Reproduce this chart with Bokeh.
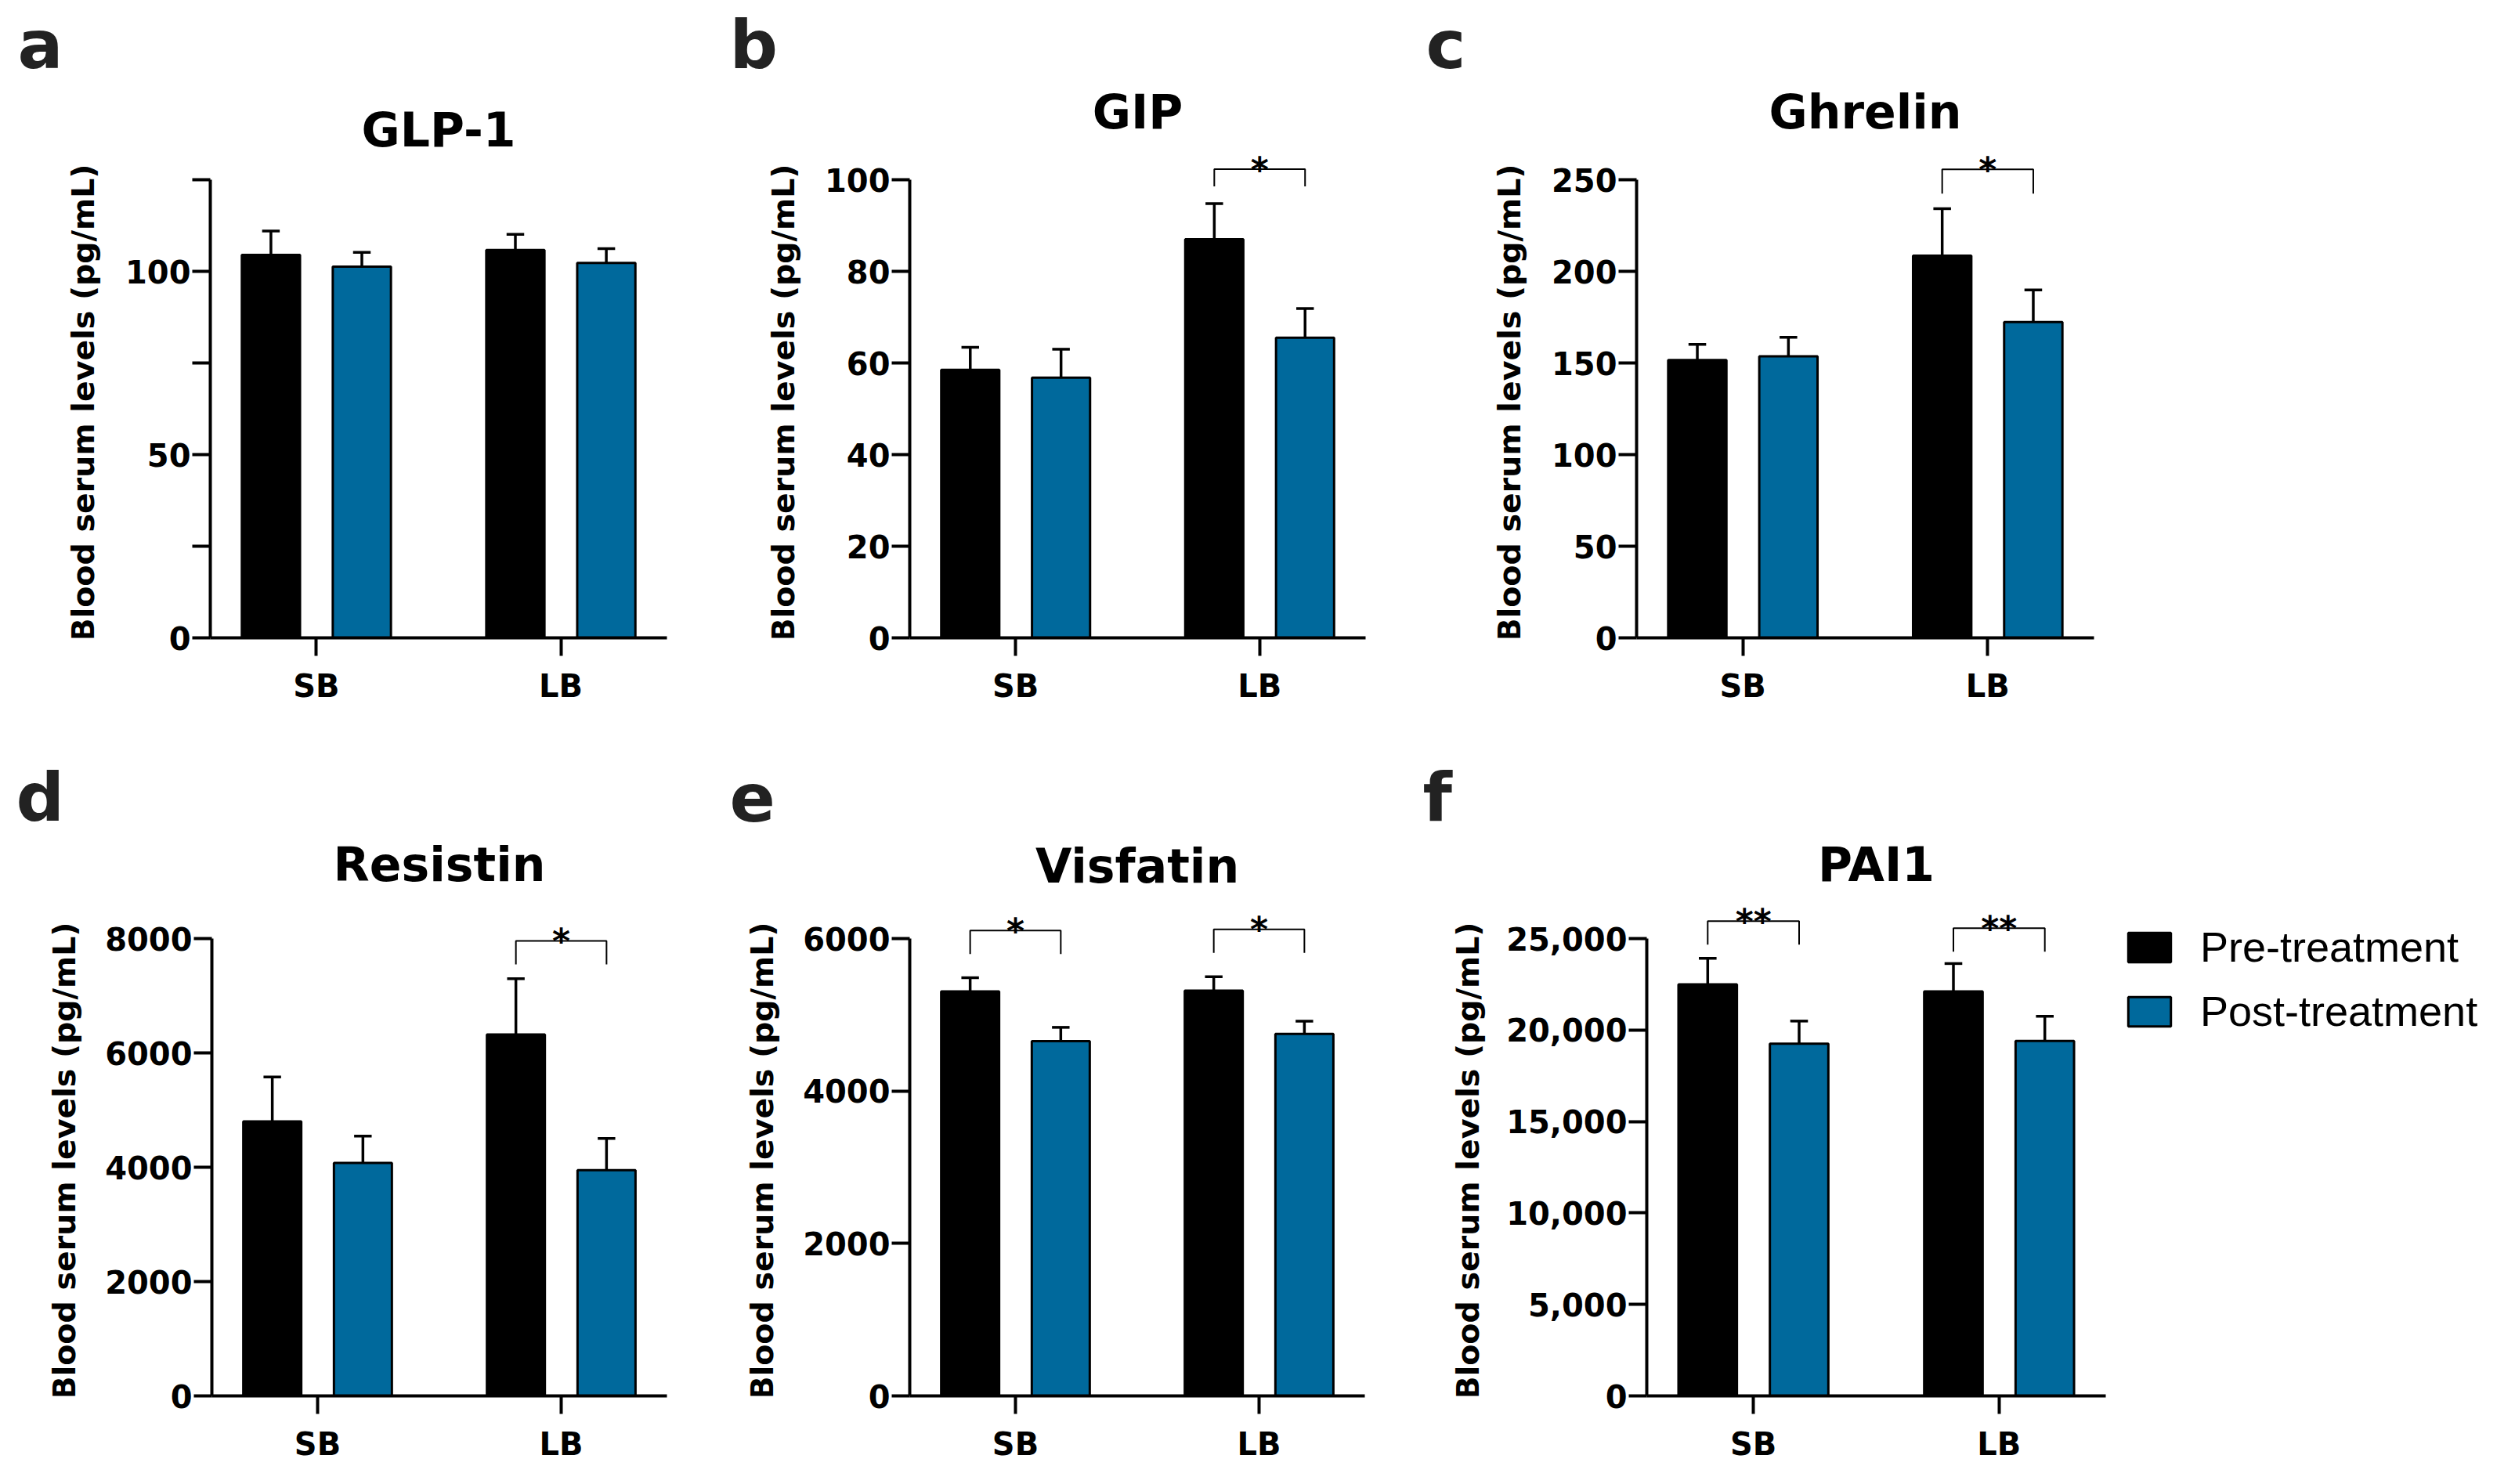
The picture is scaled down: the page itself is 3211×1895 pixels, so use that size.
import math
from bokeh.plotting import figure
from bokeh.models import Range1d, FixedTicker, Legend, LegendItem
from bokeh.layouts import row, column
from bokeh.embed import file_html
from bokeh.resources import INLINE
from bokeh.core.properties import value

# ---------------- data ----------------
categories = ["SB", "LB"]
series_names = ["Pre-treatment", "Post-treatment"]
panel_letters = ["a", "b", "c", "d", "e", "f"]
panel_titles = ["GLP-1", "GIP", "Ghrelin", "Resistin", "Visfatin", "PAI1"]
y_label = "Blood serum levels (pg/mL)"

glp1_pre = [104.5, 105.8]
glp1_pre_sem = [6.5, 4.3]
glp1_post = [101.3, 102.3]
glp1_post_sem = [3.9, 3.9]
glp1_ticks = [0, 25, 50, 75, 100, 125]
glp1_tick_labels = ["0", "", "50", "", "100", ""]
glp1_sig_cat = []
glp1_sig_text = []
glp1_sig_y = []

gip_pre = [58.5, 87.0]
gip_pre_sem = [4.9, 7.8]
gip_post = [56.8, 65.5]
gip_post_sem = [6.2, 6.4]
gip_ticks = [0, 20, 40, 60, 80, 100]
gip_tick_labels = ["0", "20", "40", "60", "80", "100"]
gip_sig_cat = ["LB"]
gip_sig_text = ["*"]
gip_sig_y = [102.3]

ghrelin_pre = [151.6, 208.5]
ghrelin_pre_sem = [8.5, 25.7]
ghrelin_post = [153.6, 172.3]
ghrelin_post_sem = [10.4, 17.6]
ghrelin_ticks = [0, 50, 100, 150, 200, 250]
ghrelin_tick_labels = ["0", "50", "100", "150", "200", "250"]
ghrelin_sig_cat = ["LB"]
ghrelin_sig_text = ["*"]
ghrelin_sig_y = [255.7]

resistin_pre = [4802, 6322]
resistin_pre_sem = [777, 976]
resistin_post = [4074, 3950]
resistin_post_sem = [471, 554]
resistin_ticks = [0, 2000, 4000, 6000, 8000]
resistin_tick_labels = ["0", "2000", "4000", "6000", "8000"]
resistin_sig_cat = ["LB"]
resistin_sig_text = ["*"]
resistin_sig_y = [7959]

visfatin_pre = [5306, 5318]
visfatin_pre_sem = [180, 180]
visfatin_post = [4655, 4748]
visfatin_post_sem = [180, 167]
visfatin_ticks = [0, 2000, 4000, 6000]
visfatin_tick_labels = ["0", "2000", "4000", "6000"]
visfatin_sig_cat = ["SB", "LB"]
visfatin_sig_text = ["*", "*"]
visfatin_sig_y = [6105, 6120]

pai1_pre = [22500, 22113]
pai1_pre_sem = [1418, 1521]
pai1_post = [19253, 19407]
pai1_post_sem = [1237, 1340]
pai1_ticks = [0, 5000, 10000, 15000, 20000, 25000]
pai1_tick_labels = ["0", "5,000", "10,000", "15,000", "20,000", "25,000"]
pai1_sig_cat = ["SB", "LB"]
pai1_sig_text = ["**", "**"]
pai1_sig_y = [25954, 25567]

# ---------------- style / layout ----------------
FONT = "DejaVu Sans"
LEG_FONT = "Liberation Sans"
BLUE = "#00699C"
X0, X1 = 0.566, 2.434
OFF = 0.186
BW = 0.238
CAP = 0.036
TITLE_PX, LETTER_PX, STAR_PX = 60, 86, 44
BASE_SHIFT = 0.24   # svg baseline compensation (fraction of font size)
YLAB_RISE = 300     # y-label centre, pixels above the x axis

# rows: page top, page bottom, frame top, axis zero, axis top
ROWS = [dict(top=8, bot=940, ft=18, ab=822, at=237),
        dict(top=940, bot=1887, ft=950, ab=1790, at=1206)]
# horizontal page geometry of each panel
layouts = [
    dict(row=0, sx=8,    mx=150,  mx1=920,  fl=276,  fr=859,  ylab=113,  lx=30,   lb=85,   tb=188,  leg=0),
    dict(row=0, sx=920,  mx=1045, mx1=1800, fl=1169, fr=1751, ylab=1007, lx=939,  lb=85,   tb=165,  leg=22),
    dict(row=0, sx=1800, mx=1970, mx1=2800, fl=2097, fr=2681, ylab=1934, lx=1828, lb=85,   tb=165,  leg=31),
    dict(row=1, sx=8,    mx=130,  mx1=920,  fl=278,  fr=859,  ylab=89,   lx=28,   lb=1046, tb=1126, leg=30),
    dict(row=1, sx=920,  mx=1020, mx1=1800, fl=1169, fr=1750, ylab=980,  lx=939,  lb=1046, tb=1128, leg=30),
    dict(row=1, sx=1800, mx=1920, mx1=2710, fl=2110, fr=2696, ylab=1881, lx=1824, lb=1046, tb=1126, leg=30),
]
LEGEND_X1 = 3203

panels = [
    (glp1_pre, glp1_pre_sem, glp1_post, glp1_post_sem, glp1_ticks, glp1_tick_labels, glp1_sig_cat, glp1_sig_text, glp1_sig_y),
    (gip_pre, gip_pre_sem, gip_post, gip_post_sem, gip_ticks, gip_tick_labels, gip_sig_cat, gip_sig_text, gip_sig_y),
    (ghrelin_pre, ghrelin_pre_sem, ghrelin_post, ghrelin_post_sem, ghrelin_ticks, ghrelin_tick_labels, ghrelin_sig_cat, ghrelin_sig_text, ghrelin_sig_y),
    (resistin_pre, resistin_pre_sem, resistin_post, resistin_post_sem, resistin_ticks, resistin_tick_labels, resistin_sig_cat, resistin_sig_text, resistin_sig_y),
    (visfatin_pre, visfatin_pre_sem, visfatin_post, visfatin_post_sem, visfatin_ticks, visfatin_tick_labels, visfatin_sig_cat, visfatin_sig_text, visfatin_sig_y),
    (pai1_pre, pai1_pre_sem, pai1_post, pai1_post_sem, pai1_ticks, pai1_tick_labels, pai1_sig_cat, pai1_sig_text, pai1_sig_y),
]


def blank_fig(R, x0, x1):
    """Figure without axes whose data coordinates are page pixels
    (x from its left edge, y upward from the row bottom)."""
    w, h = x1 - x0, R["bot"] - R["top"]
    bt, bb = R["ft"] - R["top"], R["bot"] - R["ab"]
    p = figure(width=w, height=h, x_range=Range1d(0, w), y_range=Range1d(bb, h - bt),
               output_backend="svg", toolbar_location=None,
               x_axis_location=None, y_axis_location=None,
               min_border_left=0, min_border_right=0, min_border_top=bt, min_border_bottom=bb)
    p.outline_line_color = None
    p.xgrid.grid_line_color = None
    p.ygrid.grid_line_color = None
    p.background_fill_color = "white"
    p.border_fill_color = "white"
    return p


def style_axis(ax):
    ax.axis_line_width = 4
    ax.axis_line_color = "black"
    ax.major_tick_line_width = 4
    ax.major_tick_line_color = "black"
    ax.major_tick_out = 23
    ax.major_tick_in = 0
    ax.minor_tick_line_color = None
    ax.major_label_text_font = FONT
    ax.major_label_text_font_style = "bold"
    ax.major_label_text_font_size = "40px"
    ax.major_label_text_color = "black"


def make_strip(i):
    L = layouts[i]
    R = ROWS[L["row"]]
    s = blank_fig(R, L["sx"], L["mx"])
    s.text(x=[L["ylab"] - L["sx"]], y=[R["bot"] - R["ab"] + YLAB_RISE], text=[y_label],
           angle=math.pi / 2, text_align="center", text_baseline="middle",
           text_font=value(FONT), text_font_style="bold", text_font_size="39.5px",
           text_color="black")
    s.text(x=[L["lx"] - L["sx"]], y=[R["bot"] - L["lb"] + BASE_SHIFT * LETTER_PX],
           text=[panel_letters[i]], text_align="left", text_baseline="alphabetic",
           text_font=value(FONT), text_font_style="bold",
           text_font_size=f"{LETTER_PX}px", text_color="#222222")
    return s


def make_panel(i):
    pre, pre_sem, post, post_sem, ticks, tick_labels, sig_cat, sig_text, sig_y = panels[i]
    L = layouts[i]
    R = ROWS[L["row"]]
    axis_max = ticks[-1]
    fh = R["ab"] - R["ft"]
    upp = axis_max / (R["ab"] - R["at"])
    y_end = fh * upp
    p = figure(width=L["mx1"] - L["mx"], height=R["bot"] - R["top"],
               x_range=Range1d(X0, X1), y_range=Range1d(0, y_end),
               output_backend="svg", toolbar_location=None,
               min_border_left=L["fl"] - L["mx"], min_border_right=L["mx1"] - L["fr"],
               min_border_top=R["ft"] - R["top"], min_border_bottom=R["bot"] - R["ab"])
    p.outline_line_color = None
    p.xgrid.visible = False
    p.ygrid.visible = False
    p.background_fill_color = "white"
    p.border_fill_color = "white"

    xc = [categories.index(c) + 1 for c in categories]
    pre_x = [c - OFF for c in xc]
    post_x = [c + OFF for c in xc]

    p.vbar(x=pre_x, top=pre, bottom=0, width=BW, fill_color="black",
           line_color="black", line_width=3)
    p.vbar(x=post_x, top=post, bottom=0, width=BW, fill_color=BLUE,
           line_color="black", line_width=3)

    for xs, vals, sems in ((pre_x, pre, pre_sem), (post_x, post, post_sem)):
        tops = [v + s for v, s in zip(vals, sems)]
        p.segment(x0=xs, y0=vals, x1=xs, y1=tops, line_color="black", line_width=3.5)
        p.segment(x0=[x - CAP for x in xs], y0=tops, x1=[x + CAP for x in xs], y1=tops,
                  line_color="black", line_width=3.5)

    bx, by, sx, sy = [], [], [], []
    for cat, yb in zip(sig_cat, sig_y):
        c = categories.index(cat) + 1
        leg = L["leg"] * upp
        bx.append([c - OFF, c - OFF, c + OFF, c + OFF])
        by.append([yb - leg, yb, yb, yb - leg])
        sx.append(c)
        sy.append(yb)
    if bx:
        p.multi_line(xs=bx, ys=by, line_color="black", line_width=2)
        p.text(x=sx, y=sy, text=sig_text, text_align="center", text_baseline="alphabetic",
               text_font=value(FONT), text_font_style="bold", text_font_size=f"{STAR_PX}px",
               text_color="black")

    p.text(x=[(X0 + X1) / 2], y=[(R["ab"] - L["tb"] + BASE_SHIFT * TITLE_PX) * upp],
           text=[panel_titles[i]], text_align="center", text_baseline="alphabetic",
           text_font=value(FONT), text_font_style="bold", text_font_size=f"{TITLE_PX}px",
           text_color="black")

    xa = p.xaxis[0]
    style_axis(xa)
    xa.ticker = FixedTicker(ticks=xc)
    xa.major_label_overrides = {c: name for c, name in zip(xc, categories)}
    xa.major_label_standoff = 15

    ya = p.yaxis[0]
    style_axis(ya)
    ya.ticker = FixedTicker(ticks=ticks)
    ya.bounds = (0, axis_max)
    ya.major_label_overrides = {t: lab for t, lab in zip(ticks, tick_labels)}
    ya.major_label_standoff = 2
    return p


def make_legend_fig():
    R = ROWS[1]
    x0 = layouts[5]["mx1"]
    lp = blank_fig(R, x0, LEGEND_X1)
    # hidden copies of the PAI1 bars: they only supply the legend swatches
    r_pre = lp.vbar(x=[1, 2], top=pai1_pre, width=BW, fill_color="black",
                    line_color="black", line_width=3, visible=False)
    r_post = lp.vbar(x=[1, 2], top=pai1_post, width=BW, fill_color=BLUE,
                     line_color="black", line_width=3, visible=False)
    legend = Legend(items=[LegendItem(label=series_names[0], renderers=[r_pre]),
                           LegendItem(label=series_names[1], renderers=[r_post])],
                    location=(8, 460), orientation="vertical",
                    glyph_width=68, glyph_height=47, label_standoff=31, spacing=20,
                    padding=0, margin=0, border_line_color=None,
                    background_fill_alpha=0, inactive_fill_alpha=0,
                    label_text_font=LEG_FONT,
                    label_text_font_size="54px", label_text_color="black")
    lp.add_layout(legend)
    return lp


items = []
for i in range(6):
    items.append((make_strip(i), make_panel(i)))

row1 = row(*[f for pair in items[:3] for f in pair])
row2 = row(*([f for pair in items[3:] for f in pair] + [make_legend_fig()]))
layout = column(row1, row2)

open("out.html", "w").write(file_html(layout, INLINE))
